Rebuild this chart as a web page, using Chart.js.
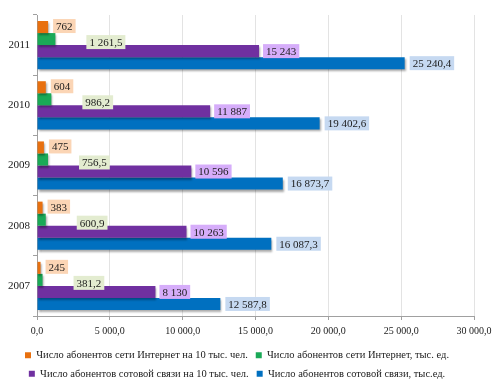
<!DOCTYPE html>
<html lang="ru">
<head>
    <meta charset="UTF-8">
    <title>Абоненты сотовой связи и сети Интернет</title>
    <style>
        body {
            margin: 0;
            padding: 0;
            background-color: #ffffff;
        }

        .chart-container {
            width: 504px;
            height: 390px;
        }
    </style>
</head>
<body>
    <div class="chart-container">
        <canvas id="subscribers-chart"></canvas>
    </div>

    <script src="https://cdn.jsdelivr.net/npm/chart.js"></script>
    <script>
        const years = ['2007', '2008', '2009', '2010', '2011'];

        const internetPer10k = [245, 383, 475, 604, 762];
        const internetTotal = [381.2, 600.9, 756.5, 986.2, 1261.5];
        const mobilePer10k = [8130, 10263, 10596, 11887, 15243];
        const mobileTotal = [12587.8, 16087.3, 16873.7, 19402.6, 25240.4];

        const seriesNames = [
            'Число абонентов сети Интернет на 10 тыс. чел.',
            'Число абонентов сети Интернет, тыс. ед.',
            'Число абонентов сотовой связи на 10 тыс. чел.',
            'Число абонентов сотовой связи, тыс.ед.'
        ];

        const xTicks = [0, 5000, 10000, 15000, 20000, 25000, 30000];

        // 1 261,5 style
        function formatNum(v, dec) {
            const parts = v.toFixed(dec).split('.');
            parts[0] = parts[0].replace(/\B(?=(\d{3})+(?!\d))/g, ' ');
            return parts.join(',');
        }

        const serif = "'Liberation Serif', 'Times New Roman', serif";

        // value labels with coloured boxes next to bar ends
        const valueLabels = {
            id: 'valueLabels',
            afterDatasetsDraw(chart) {
                const ctx = chart.ctx;
                ctx.save();
                ctx.font = '11px ' + serif;
                ctx.textBaseline = 'middle';
                ctx.textAlign = 'left';
                chart.data.datasets.forEach((ds, i) => {
                    const meta = chart.getDatasetMeta(i);
                    const st = ds.labelStyle;
                    meta.data.forEach((bar, j) => {
                        const text = formatNum(ds.data[j], st.decimals);
                        const w = ctx.measureText(text).width + 6;
                        const h = 14;
                        const x = bar.x + st.dx;
                        const y = bar.y + st.dy;
                        ctx.fillStyle = st.bg;
                        ctx.fillRect(x, y - h / 2, w, h);
                        ctx.fillStyle = '#1a1a1a';
                        ctx.fillText(text, x + 3, y + 1);
                    });
                });
                ctx.restore();
            }
        };

        const barShadow = {
            id: 'barShadow',
            beforeDatasetsDraw(chart) {
                const ctx = chart.ctx;
                ctx.save();
                ctx.shadowColor = 'rgba(0, 0, 0, 0.35)';
                ctx.shadowOffsetX = 1;
                ctx.shadowOffsetY = 2;
                ctx.shadowBlur = 2;
            },
            afterDatasetsDraw(chart) {
                chart.ctx.restore();
            }
        };

        new Chart(document.getElementById('subscribers-chart'), {
            type: 'bar',
            data: {
                labels: years,
                datasets: [
                    {
                        label: seriesNames[0],
                        data: internetPer10k,
                        backgroundColor: '#e8700f',
                        labelStyle: { decimals: 0, dx: 5, dy: -1, bg: '#fbd5b5' }
                    },
                    {
                        label: seriesNames[1],
                        data: internetTotal,
                        backgroundColor: '#1aa957',
                        labelStyle: { decimals: 1, dx: 31, dy: 3, bg: '#e3ecd0' }
                    },
                    {
                        label: seriesNames[2],
                        data: mobilePer10k,
                        backgroundColor: '#7030a0',
                        labelStyle: { decimals: 0, dx: 4, dy: 0, bg: '#d6adfa' }
                    },
                    {
                        label: seriesNames[3],
                        data: mobileTotal,
                        backgroundColor: '#0070c0',
                        labelStyle: { decimals: 1, dx: 5, dy: 0, bg: '#c6d9f1' }
                    }
                ]
            },
            options: {
                indexAxis: 'y',
                responsive: true,
                maintainAspectRatio: false,
                animation: false,
                categoryPercentage: 0.8,
                barPercentage: 1.0,
                layout: {
                    padding: { top: 15, right: 30, left: 0, bottom: 1 }
                },
                plugins: {
                    tooltip: { enabled: false },
                    legend: {
                        position: 'bottom',
                        labels: {
                            boxWidth: 6,
                            boxHeight: 6,
                            padding: 8,
                            color: '#1a1a1a',
                            font: { family: serif, size: 10.5 }
                        }
                    }
                },
                scales: {
                    x: {
                        min: 0,
                        max: 30000,
                        afterBuildTicks(scale) {
                            scale.ticks = xTicks.map(v => ({ value: v }));
                        },
                        grid: {
                            color: '#e3e3e3',
                            tickLength: 4,
                            tickColor: '#a0a0a0'
                        },
                        border: { color: '#a0a0a0' },
                        ticks: {
                            color: '#1a1a1a',
                            padding: 5,
                            font: { family: serif, size: 10 },
                            callback: v => formatNum(v, 1)
                        }
                    },
                    y: {
                        reverse: true,
                        afterFit(scale) {
                            scale.width = 37;
                        },
                        grid: {
                            offset: true,
                            drawOnChartArea: false,
                            tickLength: 4,
                            tickColor: '#a0a0a0'
                        },
                        border: { color: '#a0a0a0' },
                        ticks: {
                            color: '#1a1a1a',
                            padding: 3,
                            font: { family: serif, size: 11 }
                        }
                    }
                }
            },
            plugins: [barShadow, valueLabels]
        });
    </script>
</body>
</html>
